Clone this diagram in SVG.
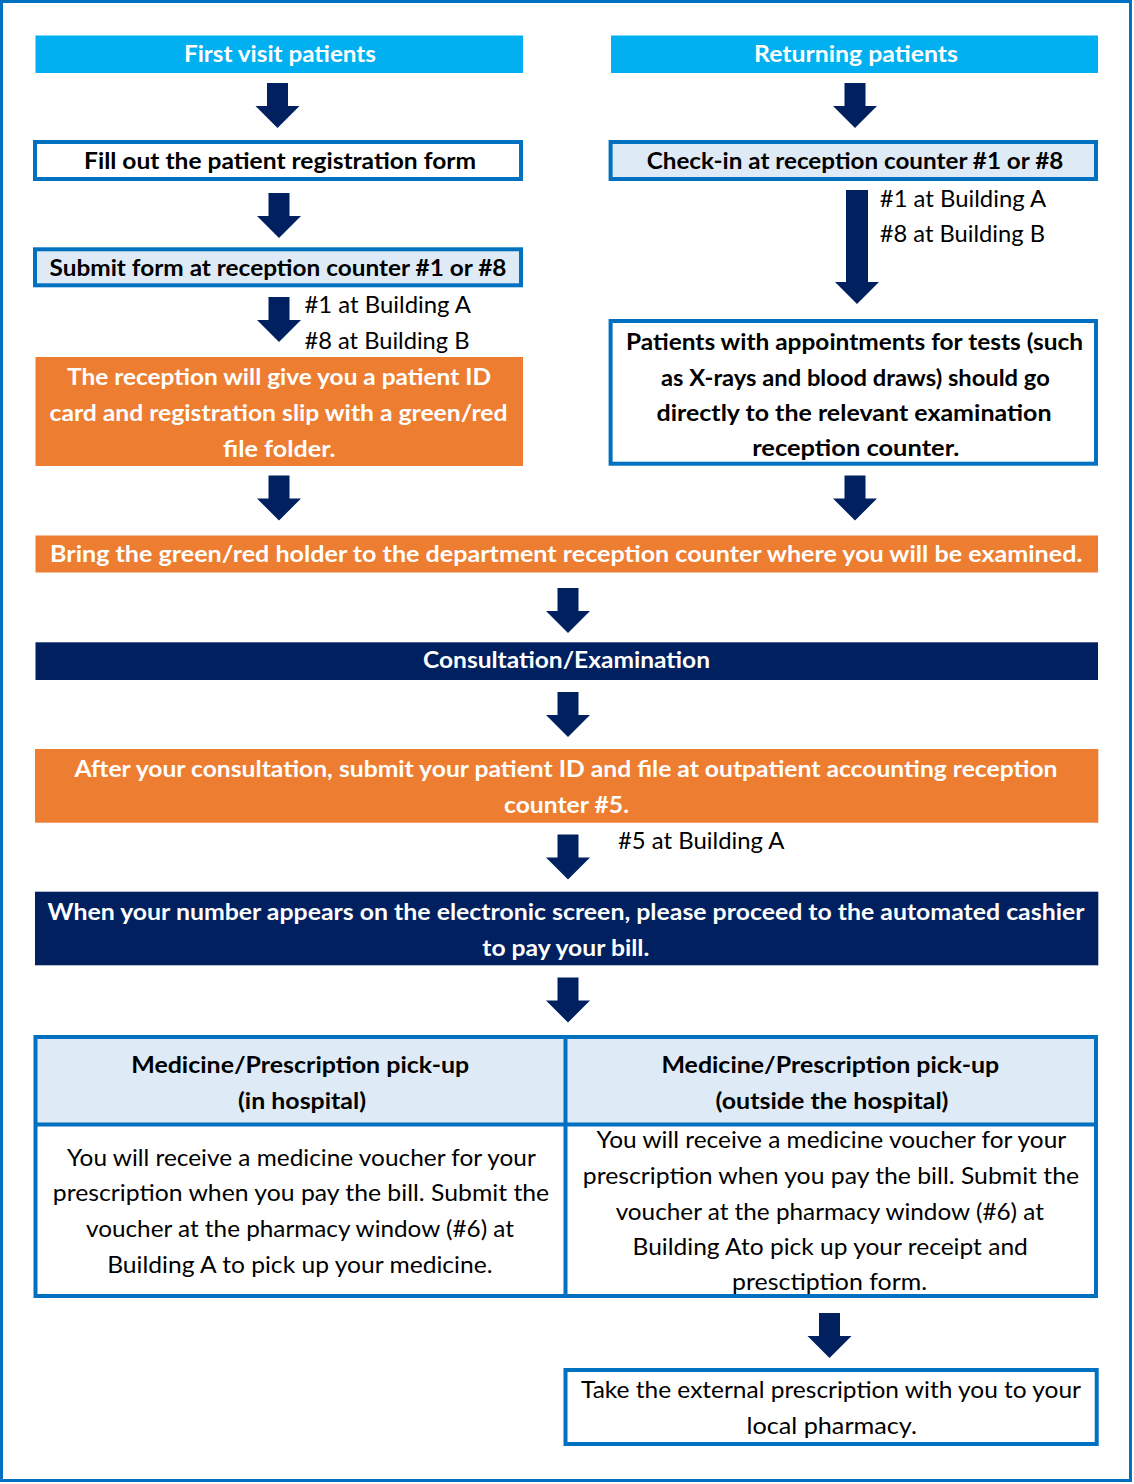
<svg xmlns="http://www.w3.org/2000/svg" xmlns:xlink="http://www.w3.org/1999/xlink" width="1134" height="1484" viewBox="0 0 1134 1484">
<style>
text{font-family:Lato,"Open Sans","Liberation Sans",sans-serif;font-size:23px;text-anchor:middle}
.b{font-weight:bold}
.w{fill:#FFFFFF}
.k{fill:#000000}
.l{text-anchor:start}
.sky{fill:#00B0F0}
.org{fill:#ED7D31}
.navy{fill:#002060}
.pale{fill:#DEEBF7}
.ob{fill:#FFFFFF;stroke:#0070C0;stroke-width:4}
.pb{fill:#DEEBF7;stroke:#0070C0;stroke-width:4}
.ln{stroke:#0070C0;stroke-width:4;fill:none}
.arr{fill:#002060}
</style>
<defs>
<path id="arrow" d="M-10.5,0 H10.5 V23 H22 L0,45 L-22,23 H-10.5 Z"/>
</defs>
<rect x="1.5" y="1.5" width="1129" height="1479" fill="#FFFFFF" stroke="#0070C0" stroke-width="3"/>

<g id="first-visit">
<rect class="sky" x="35.5" y="35.5" width="487.5" height="37.5"/>
<text class="b w" x="280" y="62" textLength="192" lengthAdjust="spacingAndGlyphs">First visit patients</text>
</g>
<g id="returning">
<rect class="sky" x="611" y="35.5" width="487" height="37.5"/>
<text class="b w" x="856" y="62" textLength="204" lengthAdjust="spacingAndGlyphs">Returning patients</text>
</g>
<g id="fill-form">
<rect class="ob" x="35" y="142" width="486" height="37"/>
<text class="b k" x="280" y="168.5" textLength="392" lengthAdjust="spacingAndGlyphs">Fill out the patient registration form</text>
</g>
<g id="submit-form">
<rect class="pb" x="35" y="249.3" width="486" height="36"/>
<text class="b k" x="278" y="276" textLength="457" lengthAdjust="spacingAndGlyphs">Submit form at reception counter #1 or #8</text>
</g>
<g id="reception-id">
<rect class="org" x="35.5" y="357" width="487.5" height="109"/>
<text class="b w" x="279" y="385" textLength="424" lengthAdjust="spacingAndGlyphs">The reception will give you a patient ID</text>
<text class="b w" x="278.5" y="420.5" textLength="458" lengthAdjust="spacingAndGlyphs">card and registration slip with a green/red</text>
<text class="b w" x="279.3" y="456.5" textLength="112.6" lengthAdjust="spacingAndGlyphs">file folder.</text>
</g>
<g id="check-in">
<rect class="pb" x="610.6" y="142" width="485.4" height="37"/>
<text class="b k" x="855" y="168.5" textLength="416.6" lengthAdjust="spacingAndGlyphs">Check-in at reception counter #1 or #8</text>
</g>
<g id="appointments">
<rect class="ob" x="610.6" y="321" width="485.4" height="142.7"/>
<text class="b k" x="854.5" y="350" textLength="457" lengthAdjust="spacingAndGlyphs">Patients with appointments for tests (such</text>
<text class="b k" x="855.4" y="385.5" textLength="388.8" lengthAdjust="spacingAndGlyphs">as X-rays and blood draws) should go</text>
<text class="b k" x="854" y="420.5" textLength="395" lengthAdjust="spacingAndGlyphs">directly to the relevant examination</text>
<text class="b k" x="855.7" y="456" textLength="207" lengthAdjust="spacingAndGlyphs">reception counter.</text>
</g>
<g id="bring-holder">
<rect class="org" x="35.5" y="535.5" width="1062.5" height="37"/>
<text class="b w" x="566.2" y="561.7" textLength="1032.4" lengthAdjust="spacingAndGlyphs">Bring the green/red holder to the department reception counter where you will be examined.</text>
</g>
<g id="consultation">
<rect class="navy" x="35.5" y="642.3" width="1062.5" height="37.7"/>
<text class="b w" x="566.5" y="668.3" textLength="287" lengthAdjust="spacingAndGlyphs">Consultation/Examination</text>
</g>
<g id="accounting">
<rect class="org" x="35" y="749" width="1063.3" height="73.7"/>
<text class="b w" x="566" y="777.3" textLength="983" lengthAdjust="spacingAndGlyphs">After your consultation, submit your patient ID and file at outpatient accounting reception</text>
<text class="b w" x="566.5" y="812.7" textLength="125" lengthAdjust="spacingAndGlyphs">counter #5.</text>
</g>
<g id="cashier">
<rect class="navy" x="35" y="891.7" width="1063.3" height="73.6"/>
<text class="b w" x="566" y="920" textLength="1037" lengthAdjust="spacingAndGlyphs">When your number appears on the electronic screen, please proceed to the automated cashier</text>
<text class="b w" x="565.8" y="956" textLength="167" lengthAdjust="spacingAndGlyphs">to pay your bill.</text>
</g>
<g id="pickup-in">
<rect class="pale" x="35.5" y="1037" width="530" height="87.5"/>
<text class="b k" x="300.2" y="1073.3" textLength="338" lengthAdjust="spacingAndGlyphs">Medicine/Prescription pick-up</text>
<text class="b k" x="302" y="1108.7" textLength="128" lengthAdjust="spacingAndGlyphs">(in hospital)</text>
<text class="k" x="301.4" y="1166" textLength="468.8" lengthAdjust="spacingAndGlyphs">You will receive a medicine voucher for your</text>
<text class="k" x="301" y="1201" textLength="496.4" lengthAdjust="spacingAndGlyphs">prescription when you pay the bill. Submit the</text>
<text class="k" x="300" y="1236.7" textLength="428" lengthAdjust="spacingAndGlyphs">voucher at the pharmacy window (#6) at</text>
<text class="k" x="299.9" y="1272.7" textLength="385.4" lengthAdjust="spacingAndGlyphs">Building A to pick up your medicine.</text>
</g>
<g id="pickup-out">
<rect class="pale" x="565.5" y="1037" width="530.5" height="87.5"/>
<text class="b k" x="830.3" y="1073.3" textLength="337.8" lengthAdjust="spacingAndGlyphs">Medicine/Prescription pick-up</text>
<text class="b k" x="832" y="1108.7" textLength="233" lengthAdjust="spacingAndGlyphs">(outside the hospital)</text>
<text class="k" x="831.4" y="1148.3" textLength="469.6" lengthAdjust="spacingAndGlyphs">You will receive a medicine voucher for your</text>
<text class="k" x="830.9" y="1184.3" textLength="496.3" lengthAdjust="spacingAndGlyphs">prescription when you pay the bill. Submit the</text>
<text class="k" x="829.8" y="1220" textLength="428.3" lengthAdjust="spacingAndGlyphs">voucher at the pharmacy window (#6) at</text>
<text class="k" x="830.2" y="1255" textLength="395.3" lengthAdjust="spacingAndGlyphs">Building Ato pick up your receipt and</text>
<text class="k" x="829.6" y="1290" textLength="195" lengthAdjust="spacingAndGlyphs">presctiption form.</text>
</g>
<g id="pickup-table-lines">
<rect class="ln" x="35.5" y="1037" width="1060.5" height="259"/>
<line class="ln" x1="565.5" y1="1037" x2="565.5" y2="1296"/>
<line class="ln" x1="35.5" y1="1124.5" x2="1096" y2="1124.5"/>
</g>
<g id="external-pharmacy">
<rect class="ob" x="565.5" y="1370" width="531.2" height="74"/>
<text class="k" x="831" y="1398.3" textLength="500" lengthAdjust="spacingAndGlyphs">Take the external prescription with you to your</text>
<text class="k" x="831.7" y="1434" textLength="170.5" lengthAdjust="spacingAndGlyphs">local pharmacy.</text>
</g>

<g id="connectors" class="arr">
<use xlink:href="#arrow" x="277.5" y="83"/>
<use xlink:href="#arrow" x="279" y="193"/>
<use xlink:href="#arrow" x="279" y="297"/>
<use xlink:href="#arrow" x="279" y="475.5"/>
<use xlink:href="#arrow" x="855" y="83"/>
<path d="M846,190 H868 V282 H879 L857,304 L835,282 H846 Z"/>
<use xlink:href="#arrow" x="855" y="475.5"/>
<use xlink:href="#arrow" x="568" y="588"/>
<use xlink:href="#arrow" x="568" y="692"/>
<use xlink:href="#arrow" x="568" y="834.5"/>
<use xlink:href="#arrow" x="568" y="977.5"/>
<use xlink:href="#arrow" x="829.5" y="1313"/>
<text class="k l" x="304.5" y="313.3" textLength="166.5" lengthAdjust="spacingAndGlyphs">#1 at Building A</text>
<text class="k l" x="304.5" y="348.5" textLength="165" lengthAdjust="spacingAndGlyphs">#8 at Building B</text>
<text class="k l" x="879.8" y="206.7" textLength="166.4" lengthAdjust="spacingAndGlyphs">#1 at Building A</text>
<text class="k l" x="879.8" y="242.3" textLength="165.2" lengthAdjust="spacingAndGlyphs">#8 at Building B</text>
<text class="k l" x="618" y="849.3" textLength="166.5" lengthAdjust="spacingAndGlyphs">#5 at Building A</text>
</g>
</svg>
